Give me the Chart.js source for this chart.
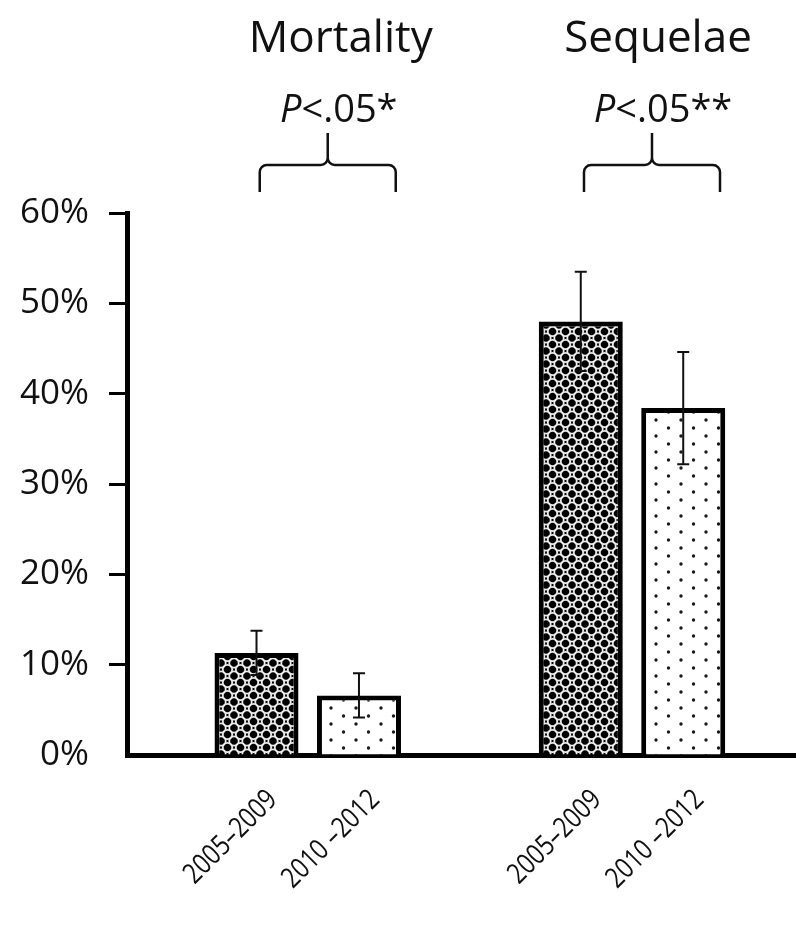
<!DOCTYPE html>
<html>
<head>
<meta charset="utf-8">
<script src="https://cdn.jsdelivr.net/npm/chart.js@4.4.1/dist/chart.umd.min.js"></script>
<style>
  html, body { margin: 0; padding: 0; background: #fff; }
  #wrap { width: 796px; height: 926px; position: relative; overflow: hidden; }
</style>
</head>
<body>
<div id="wrap"><canvas id="chart"></canvas></div>
<script>
// valores (%)
var categories = ['Mortality', 'Sequelae'];
var periods = ['2005\u20132009', '2010 \u20132012'];
var rate0509 = [11.3, 48.0];
var rate1012 = [6.6, 38.4];
var err0509 = [2.45, 5.5];
var err1012 = [2.45, 6.2];
var pLabels = ['<.05*', '<.05**'];
var yTicks = [0, 10, 20, 30, 40, 50, 60];

var FONT = '"Open Sans", "Noto Sans", sans-serif';

// trama oscura: fondo negro con anillos blancos
function patronOscuro() {
    var c = document.createElement('canvas');
    c.width = 13; c.height = 13;
    var g = c.getContext('2d');
    g.fillStyle = '#000';
    g.fillRect(0, 0, 13, 13);
    g.strokeStyle = '#ececec';
    g.lineWidth = 1.8;
    [[0, 0], [13, 0], [0, 13], [13, 13], [6.5, 6.5]].forEach(function(p) {
        g.beginPath();
        g.arc(p[0], p[1], 4.7, 0, Math.PI * 2);
        g.stroke();
    });
    return g.createPattern(c, 'repeat');
}

// trama clara: puntos negros alternados
function patronPuntos() {
    var c = document.createElement('canvas');
    c.width = 25; c.height = 16;
    var g = c.getContext('2d');
    g.fillStyle = '#fff';
    g.fillRect(0, 0, 25, 16);
    g.fillStyle = '#1a1a1a';
    [[6, 4], [18.5, 12]].forEach(function(p) {
        g.beginPath();
        g.arc(p[0], p[1], 1.7, 0, Math.PI * 2);
        g.fill();
    });
    return g.createPattern(c, 'repeat');
}

var errores = [err0509, err1012];

var pluginAnotaciones = {
    id: 'anotaciones',
    afterDatasetsDraw: function(chart) {
        var ctx = chart.ctx;
        var yScale = chart.scales.y;
        var xScale = chart.scales.x;

        // barras de error
        ctx.save();
        ctx.strokeStyle = '#111';
        ctx.lineWidth = 2;
        chart.data.datasets.forEach(function(ds, di) {
            var meta = chart.getDatasetMeta(di);
            meta.data.forEach(function(bar, i) {
                var v = ds.data[i].y;
                var e = errores[di][i];
                var yTop = yScale.getPixelForValue(v + e);
                var yBot = yScale.getPixelForValue(v - e);
                ctx.beginPath();
                ctx.moveTo(bar.x, yTop);
                ctx.lineTo(bar.x, yBot);
                ctx.moveTo(bar.x - 6, yTop);
                ctx.lineTo(bar.x + 6, yTop);
                ctx.moveTo(bar.x - 6, yBot);
                ctx.lineTo(bar.x + 6, yBot);
                ctx.stroke();
            });
        });
        ctx.restore();

        // etiquetas rotadas bajo cada barra
        ctx.save();
        ctx.fillStyle = '#111';
        ctx.font = '26px ' + FONT;
        ctx.textAlign = 'right';
        ctx.textBaseline = 'alphabetic';
        chart.data.datasets.forEach(function(ds, di) {
            var meta = chart.getDatasetMeta(di);
            meta.data.forEach(function(bar) {
                ctx.save();
                ctx.translate(bar.x + 22, yScale.bottom + 46);
                ctx.rotate(-Math.PI / 4);
                ctx.scale(0.9, 1.1);
                ctx.fillText(periods[di], 0, 0);
                ctx.restore();
            });
        });
        ctx.restore();

        // titulos, valores P y llaves
        ctx.save();
        ctx.fillStyle = '#111';
        ctx.strokeStyle = '#111';
        categories.forEach(function(cat, i) {
            var cx = xScale.getPixelForValue(i);

            ctx.font = '44px ' + FONT;
            ctx.textAlign = 'center';
            ctx.textBaseline = 'alphabetic';
            ctx.fillText(cat, cx + (i === 0 ? 33 : 26), 52);

            // P en cursiva + resto
            ctx.font = 'italic 38px ' + FONT;
            var wP = ctx.measureText('P').width;
            ctx.font = '38px ' + FONT;
            var wR = ctx.measureText(pLabels[i]).width;
            var x0 = cx + 31 - (wP + wR) / 2;
            ctx.textAlign = 'left';
            ctx.font = 'italic 38px ' + FONT;
            ctx.fillText('P', x0, 122);
            ctx.font = '38px ' + FONT;
            ctx.fillText(pLabels[i], x0 + wP, 122);

            // llave
            var bc = cx + 20, L = bc - 68, R = bc + 68, yh = 165, r = 7;
            ctx.lineWidth = 2.5;
            ctx.beginPath();
            ctx.moveTo(L, 192);
            ctx.arcTo(L, yh, L + r, yh, r);
            ctx.arcTo(bc, yh, bc, yh - r, r);
            ctx.lineTo(bc, 133);
            ctx.moveTo(bc, yh - r);
            ctx.arcTo(bc, yh, bc + r, yh, r);
            ctx.arcTo(R, yh, R, yh + r, r);
            ctx.lineTo(R, 192);
            ctx.stroke();
        });
        ctx.restore();
    }
};

var ctx = document.getElementById('chart');

var chart = new Chart(ctx, {
    type: 'bar',
    data: {
        datasets: [
            {
                label: periods[0],
                data: rate0509.map(function(v, i) { return { x: i, y: v }; }),
                backgroundColor: patronOscuro(),
                borderColor: '#000',
                borderWidth: 5
            },
            {
                label: periods[1],
                data: rate1012.map(function(v, i) { return { x: i, y: v }; }),
                backgroundColor: patronPuntos(),
                borderColor: '#000',
                borderWidth: 5
            }
        ]
    },
    options: {
        responsive: true, maintainAspectRatio: false, animation: false,
        layout: { padding: { top: 213, right: 0, bottom: 0, left: 0 } },
        categoryPercentage: 0.632,
        barPercentage: 0.82,
        plugins: { legend: { display: false }, tooltip: { enabled: false } },
        scales: {
            x: {
                type: 'linear',
                offset: false,
                min: -0.5574, max: 1.5058,
                afterBuildTicks: function(s) { s.ticks = categories.map(function(c, i) { return { value: i }; }); },
                afterFit: function(s) { s.height = 171; },
                ticks: { display: false },
                grid: { display: false, offset: false },
                border: { display: true, color: '#000', width: 5 }
            },
            y: {
                min: 0, max: 60,
                afterBuildTicks: function(s) { s.ticks = yTicks.map(function(v) { return { value: v }; }); },
                afterFit: function(s) { s.width = 127; },
                ticks: {
                    padding: 20,
                    color: '#111',
                    font: { family: FONT, size: 35 },
                    callback: function(v) { return v + '%'; }
                },
                grid: {
                    drawOnChartArea: false,
                    drawTicks: true,
                    tickLength: 18,
                    tickWidth: 3,
                    tickColor: function(c) { return c.tick && c.tick.value === 0 ? 'rgba(0,0,0,0)' : '#000'; }
                },
                border: { display: true, color: '#000', width: 5 }
            }
        }
    },
    plugins: [pluginAnotaciones]
});
</script>
</body>
</html>
